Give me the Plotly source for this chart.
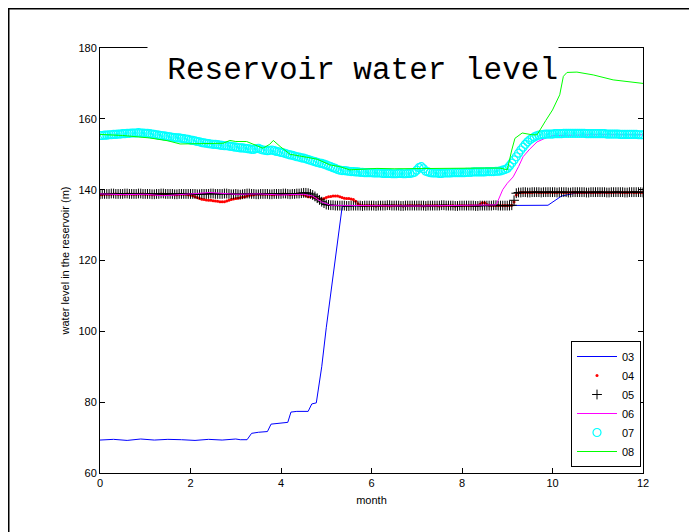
import numpy as np
import plotly.graph_objects as go

# ---------------- data ----------------
# dense (marker) series sampled every 0.05 month (0 .. 12)
months_dense = np.round(np.linspace(0, 12, 241), 2)

s04 = [
 138.6,138.6,138.7,138.7,138.7,138.7,138.8,138.8,138.7,138.7,138.7,138.7,138.8,138.8,138.7,138.7,138.7,138.8,138.8,138.8,
 138.7,138.7,138.7,138.6,138.6,138.7,138.7,138.8,138.8,138.7,138.7,138.7,138.7,138.6,138.6,138.7,138.7,138.7,138.7,138.6,
 138.5,138.3,138.0,137.8,137.5,137.3,137.2,137.1,137.0,137.0,136.9,136.8,136.7,136.6,136.6,136.6,136.8,137.0,137.2,137.4,
 137.5,137.6,137.7,137.9,138.0,138.2,138.4,138.5,138.6,138.7,138.7,138.7,138.7,138.7,138.7,138.7,138.6,138.6,138.7,138.7,
 138.7,138.8,138.8,138.7,138.6,138.7,138.7,138.8,138.8,138.7,138.6,138.3,138.0,138.0,138.0,137.8,137.5,137.4,137.3,137.5,
 137.8,138.0,138.1,138.2,138.2,138.2,138.0,137.8,137.6,137.5,137.5,137.4,137.2,136.7,136.0,135.7,135.5,135.5,135.5,135.5,
 135.5,135.5,135.4,135.5,135.5,135.5,135.5,135.5,135.4,135.5,135.5,135.5,135.5,135.5,135.4,135.5,135.5,135.5,135.5,135.5,
 135.5,135.5,135.5,135.4,135.5,135.5,135.5,135.5,135.5,135.5,135.4,135.5,135.5,135.5,135.5,135.5,135.5,135.4,135.5,135.5,
 135.5,135.5,135.5,135.5,135.5,135.5,135.5,135.5,135.9,136.3,136.3,135.8,135.6,135.5,135.5,135.5,135.5,135.5,135.5,135.5,
 135.5,135.5,135.6,136.5,138.5,139.1,139.2,139.2,139.2,139.2,139.2,139.2,139.3,139.3,139.2,139.2,139.2,139.2,139.2,139.3,
 139.2,139.2,139.2,139.3,139.2,139.2,139.2,139.2,139.2,139.3,139.3,139.2,139.2,139.2,139.2,139.2,139.3,139.2,139.2,139.2,
 139.2,139.2,139.3,139.2,139.2,139.2,139.2,139.2,139.3,139.3,139.2,139.2,139.2,139.2,139.2,139.3,139.2,139.2,139.2,139.2,
 139.2]

s05 = [
 138.7,138.8,138.8,138.8,138.8,138.9,138.9,138.8,138.8,138.8,138.8,138.9,138.9,138.8,138.8,138.8,138.8,138.9,138.9,138.8,
 138.8,138.8,138.8,138.7,138.7,138.8,138.8,138.9,138.9,138.8,138.8,138.8,138.8,138.7,138.7,138.8,138.8,138.8,138.8,138.8,
 138.8,138.8,138.8,138.7,138.7,138.8,138.8,138.8,138.8,138.9,138.9,138.8,138.8,138.8,138.8,138.9,138.9,138.8,138.7,138.7,
 138.8,138.7,138.6,138.7,138.8,138.9,138.9,138.8,138.8,138.7,138.7,138.8,138.8,138.8,138.8,138.7,138.7,138.8,138.8,138.8,
 138.8,138.9,138.9,138.8,138.7,138.8,138.8,138.9,138.9,139.0,139.1,139.1,139.0,138.8,138.5,138.1,137.6,137.1,136.6,136.2,
 135.8,135.7,135.6,135.6,135.5,135.5,135.5,135.5,135.5,135.4,135.4,135.5,135.5,135.5,135.5,135.5,135.4,135.5,135.5,135.5,
 135.5,135.5,135.4,135.5,135.5,135.5,135.5,135.6,135.6,135.5,135.5,135.5,135.5,135.4,135.4,135.5,135.5,135.5,135.5,135.5,
 135.5,135.5,135.5,135.5,135.4,135.5,135.5,135.5,135.5,135.5,135.5,135.6,135.6,135.5,135.5,135.5,135.5,135.4,135.4,135.5,
 135.5,135.5,135.5,135.5,135.5,135.5,135.4,135.4,135.5,135.5,135.5,135.5,135.5,135.5,135.6,135.6,135.5,135.5,135.5,135.5,
 135.5,135.5,135.6,137.0,139.0,139.2,139.2,139.3,139.3,139.2,139.2,139.3,139.3,139.3,139.3,139.2,139.3,139.3,139.3,139.3,
 139.3,139.3,139.2,139.3,139.3,139.3,139.3,139.2,139.2,139.3,139.3,139.3,139.3,139.3,139.3,139.2,139.2,139.3,139.3,139.3,
 139.3,139.3,139.3,139.3,139.2,139.2,139.3,139.3,139.3,139.3,139.3,139.3,139.2,139.2,139.3,139.3,139.3,139.3,139.3,139.3,
 139.2]

s07 = [
 155.3,155.3,155.4,155.4,155.5,155.5,155.6,155.6,155.7,155.7,155.8,155.8,155.9,155.9,156.0,156.0,156.0,156.1,156.0,156.0,
 155.9,155.9,155.8,155.7,155.6,155.5,155.4,155.3,155.2,155.1,155.0,154.9,154.8,154.7,154.6,154.6,154.5,154.4,154.3,154.2,
 154.0,153.9,153.8,153.6,153.5,153.3,153.2,153.1,153.0,152.9,152.8,152.8,152.7,152.6,152.5,152.4,152.4,152.3,152.2,152.1,
 152.0,151.9,151.8,151.8,151.7,151.6,151.5,151.4,151.4,151.6,151.7,151.4,151.2,151.1,151.0,151.1,151.2,151.0,150.8,150.7,
 150.5,150.4,150.2,150.0,149.8,149.7,149.5,149.3,149.2,149.0,148.9,148.7,148.5,148.3,148.1,147.9,147.7,147.5,147.4,147.2,
 147.0,146.7,146.5,146.2,146.0,145.7,145.5,145.4,145.4,145.3,145.2,145.1,145.1,145.0,145.0,144.9,144.9,144.8,144.8,144.8,
 144.8,144.7,144.7,144.7,144.7,144.6,144.6,144.6,144.6,144.5,144.5,144.5,144.6,144.6,144.5,144.5,144.6,144.6,144.7,144.9,
 145.5,146.2,146.5,145.9,145.2,145.0,144.8,144.7,144.7,144.7,144.6,144.6,144.7,144.7,144.7,144.7,144.8,144.8,144.8,144.8,
 144.8,144.8,144.9,144.9,144.9,145.0,145.0,145.0,145.0,145.0,145.0,145.1,145.1,145.1,145.1,145.2,145.2,145.3,145.5,145.7,
 146.0,146.7,147.5,148.4,149.3,150.3,151.2,152.0,152.8,153.5,154.1,154.5,154.9,155.2,155.4,155.5,155.6,155.7,155.7,155.7,
 155.7,155.8,155.8,155.8,155.8,155.9,155.9,155.9,155.9,155.9,155.9,155.9,155.9,155.9,155.9,155.8,155.8,155.8,155.8,155.8,
 155.8,155.8,155.8,155.8,155.7,155.7,155.7,155.7,155.7,155.7,155.6,155.6,155.6,155.6,155.6,155.6,155.6,155.6,155.5,155.5,
 155.5]

# line series read at key points
x03 = [0,0.3,0.6,0.9,1.2,1.5,1.8,2.1,2.4,2.7,3.0,3.1,3.25,3.35,3.5,3.7,3.78,
       3.85,4.0,4.15,4.22,4.35,4.6,4.68,4.78,4.86,4.9,5.0,5.1,5.2,5.3,5.35,
       5.4,5.6,6,7,8,9,9.5,9.9,10.2,10.5,11,12]
s03 = [69.3,69.5,69.2,69.6,69.3,69.5,69.4,69.2,69.5,69.3,69.6,69.4,69.4,71.2,
       71.5,71.7,73.8,73.9,74.2,74.3,77.2,77.4,77.4,79.5,79.8,86.0,90.0,101.0,
       111.0,120.0,130.0,135.0,135.4,135.5,135.5,135.4,135.5,135.5,135.5,135.6,
       138.2,139.0,139.1,139.2]

x06 = [0,0.5,1.0,1.4,2.0,2.43,3.0,3.5,4.0,4.5,4.7,4.9,5.1,5.5,6,7,8,8.75,
       8.8,8.9,9.0,9.13,9.25,9.35,9.5,9.66,9.8,10,11,12]
s06 = [138.8,138.6,138.7,138.3,138.8,139.2,138.7,138.8,138.5,138.7,138.2,136.5,
       135.6,135.5,135.5,135.4,135.5,135.7,137.0,140.0,141.8,143.6,146.5,149.3,
       151.5,153.5,154.3,155.3,155.5,155.5]

x08 = [0,0.5,1.1,1.5,1.77,2.2,2.72,2.87,3.0,3.24,3.4,3.6,3.75,3.83,3.98,4.2,
       4.42,4.8,5.08,5.3,5.52,5.8,6.12,6.5,7,7.5,8,8.5,8.84,9.0,9.1,9.17,9.33,
       9.55,9.66,9.72,9.85,10.0,10.16,10.24,10.32,10.54,10.9,11.34,11.93,12]
s08 = [155.6,155.3,154.6,153.8,152.9,153.0,153.1,153.9,153.6,153.6,152.8,151.7,
       152.8,153.9,152.2,150.0,149.5,148.6,147.0,146.5,145.6,145.8,146.0,145.9,
       146.0,146.1,146.0,146.1,146.1,145.6,151.2,154.5,156.0,155.5,155.5,156.9,
       159.5,162.5,166.8,172.0,173.1,173.2,172.4,171.0,170.1,170.0]

x_ticks = [0, 2, 4, 6, 8, 10, 12]
y_ticks = [60, 80, 100, 120, 140, 160, 180]

# ---------------- figure ----------------
OFF = 8                      # page body margin of the browser
W, H = 697 - OFF, 532 - OFF
L, R, T, B = 100 - OFF, 54, 48 - OFF, 59
pw, ph = W - L - R, H - T - B

fig = go.Figure()
fig.add_trace(go.Scatter(x=x03, y=s03, name="03", mode="lines",
                         line=dict(color="#0000FF", width=1)))
fig.add_trace(go.Scatter(x=months_dense, y=s04, name="04", mode="markers",
                         marker=dict(color="#FF0000", size=3, symbol="circle",
                                     line=dict(width=0))))
fig.add_trace(go.Scatter(x=months_dense, y=s05, name="05", mode="markers",
                         marker=dict(color="#000000", size=7, symbol="cross-thin-open",
                                     line=dict(color="#000000", width=1))))
fig.add_trace(go.Scatter(x=x06, y=s06, name="06", mode="lines",
                         line=dict(color="#FF00FF", width=1)))
fig.add_trace(go.Scatter(x=months_dense, y=s07, name="07", mode="markers",
                         marker=dict(color="#00FFFF", size=8, symbol="circle-open",
                                     line=dict(color="#00FFFF", width=1.2))))
fig.add_trace(go.Scatter(x=x08, y=s08, name="08", mode="lines",
                         line=dict(color="#00FF00", width=1)))

axis_common = dict(showline=True, linecolor="black", linewidth=1, mirror="ticks",
                   ticks="inside", ticklen=5, tickcolor="black", showgrid=False,
                   zeroline=False, tickfont=dict(family="Liberation Sans, Arial", size=11,
                                                 color="black"))

fig.update_xaxes(range=[0, 12], tickvals=x_ticks, **axis_common,
                 title=dict(text="month", font=dict(family="Liberation Sans, Arial",
                                                    size=11, color="black"), standoff=8))
fig.update_yaxes(range=[60, 180], tickvals=y_ticks, **axis_common,
                 title=dict(text="water level in the reservoir (m)",
                            font=dict(family="Liberation Sans, Arial", size=11,
                                      color="black"), standoff=6))

# helpers: screen pixel -> paper fraction
def px_x(p):
    return (p - OFF - L) / pw

def px_y(p):
    return (H - B - (p - OFF)) / ph

# outer figure frame (left and top edges visible)
fx, fy = (0 - L) / pw, (H - B) / ph
fig.add_shape(type="line", xref="paper", yref="paper", x0=fx, x1=fx, y0=-0.4, y1=fy + 0.01,
              line=dict(color="black", width=3))
fig.add_shape(type="line", xref="paper", yref="paper", x0=fx - 0.01, x1=1.4, y0=fy, y1=fy,
              line=dict(color="black", width=3))

fig.add_annotation(text="Reservoir water level", xref="paper", yref="paper",
                   x=px_x(147), y=px_y(70), xanchor="left", yanchor="middle",
                   showarrow=False, width=410, height=50, align="right",
                   bgcolor="white", borderpad=0,
                   font=dict(family="Liberation Mono, Courier New, monospace",
                             size=31, color="black"))

fig.update_layout(
    width=W, height=H,
    margin=dict(l=L, r=R, t=T, b=B, autoexpand=False),
    paper_bgcolor="white", plot_bgcolor="white",
    showlegend=True,
    legend=dict(x=px_x(641), y=px_y(467), xanchor="right", yanchor="bottom",
                bgcolor="white", bordercolor="black", borderwidth=1,
                font=dict(family="Liberation Sans, Arial", size=11, color="black"),
                tracegroupgap=0, itemwidth=40),
)

fig.write_html("out.html")
